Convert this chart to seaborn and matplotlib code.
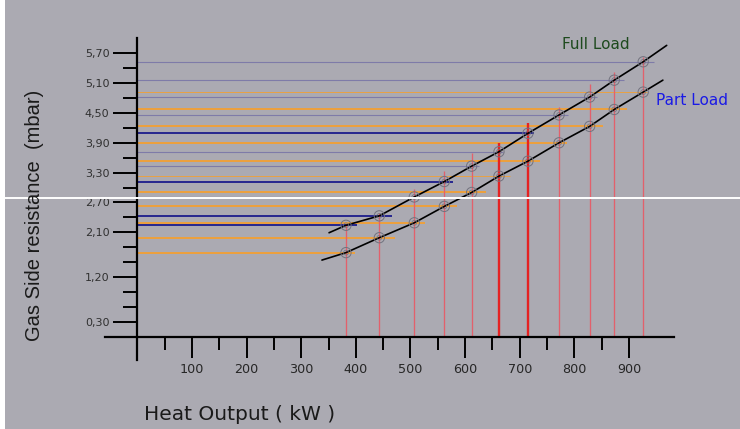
import numpy as np
import pandas as pd
import seaborn as sns
import matplotlib.pyplot as plt
from matplotlib.lines import Line2D
from matplotlib.patches import Rectangle

sns.set_theme(style="ticks")
plt.rcParams['font.family'] = ['DejaVu Sans']

# ---- data ----
heat_kw = [382, 443, 507, 562, 612, 662, 715, 772, 828, 873, 926]
full_load = [2.24, 2.43, 2.81, 3.12, 3.43, 3.72, 4.09, 4.46, 4.82, 5.16, 5.53]
part_load = [1.69, 1.99, 2.29, 2.62, 2.90, 3.23, 3.53, 3.90, 4.23, 4.57, 4.92]

# curves run a little past the first / last point
full_curve_kw = [351] + heat_kw + [969]
full_curve_val = [2.09] + full_load + [5.86]
part_curve_kw = [338] + heat_kw + [962]
part_curve_val = [1.54] + part_load + [5.16]

# where the guide lines stop
full_hline_end = [403, 466, 530, 577, 626, 670, 727, 788, 842, 890, 945]
part_hline_end = [399, 472, 527, 585, 638, 682, 737, 786, 852, 896, 933]
vline_top = [2.26, 2.48, 2.98, 3.34, 3.70, 3.90, 4.30, 4.61, 5.08, 5.33, 5.63]

x_major = [100, 200, 300, 400, 500, 600, 700, 800, 900]
x_minor = [50, 150, 250, 350, 450, 550, 650, 750, 850]
y_major = [0.3, 1.2, 2.1, 2.7, 3.3, 3.9, 4.5, 5.1, 5.7]
y_minor = [0.6, 0.9, 1.5, 1.8, 2.4, 3.0, 3.6, 4.2, 4.8, 5.4]
y_labels = ["0,30", "1,20", "2,10", "2,70", "3,30", "3,90", "4,50", "5,10", "5,70"]

blue_full = [382, 443, 562, 715]
thin_part = [662, 926]
bold_vert = [662, 715]

BG = "#abaab2"
ORANGE = "#f2a033"
NAVY = "#1c1c8c"
SLATE = "#7e7ba8"
RED_THIN = "#e2606c"
RED = "#e52222"

fig = plt.figure(figsize=(7.40, 4.29), dpi=100, facecolor=BG)
ax = fig.add_axes([0, 0, 1, 1])
ax.set_facecolor(BG)
ax.set_xlim(-251.3, 1103.2)
ax.set_ylim(-1.859, 6.773)

# horizontal guides
for kw, v, end in zip(heat_kw, full_load, full_hline_end):
    if kw in blue_full:
        ax.hlines(v, 0, end, color=NAVY, lw=1.3, zorder=2)
    else:
        ax.hlines(v, 0, end, color=SLATE, lw=0.8, zorder=2)
for kw, v, end in zip(heat_kw, part_load, part_hline_end):
    ax.hlines(v, 0, end, color=ORANGE, lw=0.6 if kw in thin_part else 1.3, zorder=2)

# vertical guides
for kw, top in zip(heat_kw, vline_top):
    if kw in bold_vert:
        ax.vlines(kw, 0, top, color=RED, lw=1.7, zorder=3)
    else:
        ax.vlines(kw, 0, top, color=RED_THIN, lw=0.95, zorder=3)

# load curves
curves = pd.DataFrame({
    "kw": full_curve_kw + part_curve_kw,
    "mbar": full_curve_val + part_curve_val,
    "load": ["Full"] * len(full_curve_kw) + ["Part"] * len(part_curve_kw),
})
sns.lineplot(data=curves, x="kw", y="mbar", units="load", estimator=None,
             sort=False, color="black", lw=1.2, ax=ax, zorder=4)

pts = pd.DataFrame({"kw": heat_kw * 2, "mbar": full_load + part_load})
sns.scatterplot(data=pts, x="kw", y="mbar", marker="o", s=55,
                facecolor="none", edgecolor="#72727e", linewidth=0.7, ax=ax, zorder=5)
sns.scatterplot(data=pts, x="kw", y="mbar", marker="o", s=12,
                facecolor="none", edgecolor="#72727e", linewidth=0.5, ax=ax, zorder=5)

# axes drawn as spines through the origin
for side in ["top", "right"]:
    ax.spines[side].set_visible(False)
ax.spines["left"].set_position(("data", 0))
ax.spines["bottom"].set_position(("data", 0))
ax.spines["left"].set_bounds(-0.47, 6.0)
ax.spines["bottom"].set_bounds(-59, 982)
for side in ["left", "bottom"]:
    ax.spines[side].set_linewidth(1.6)
    ax.spines[side].set_color("black")
    ax.spines[side].set_zorder(6)

ax.set_xticks(x_major)
ax.set_xticks(x_minor, minor=True)
ax.set_xticklabels([str(v) for v in x_major])
ax.set_yticks(y_major)
ax.set_yticks(y_minor, minor=True)
ax.set_yticklabels(y_labels)

ax.tick_params(axis="x", which="major", direction="out", length=15, width=1.4,
               color="black", pad=4, labelsize=9.2, labelcolor="#262626")
ax.tick_params(axis="x", which="minor", direction="out", length=9.5, width=1.4, color="black")
ax.tick_params(axis="y", which="major", direction="out", length=17, width=1.4,
               color="black", pad=3, labelsize=8, labelcolor="#303030")
ax.tick_params(axis="y", which="minor", direction="out", length=10, width=1.4, color="black")
ax.set_xlabel("")
ax.set_ylabel("")

ax.text(839.6, 5.88, "Full Load", color="#1e4a1e", fontsize=11, ha="center", va="center")
ax.text(1016, 4.75, "Part Load", color="#1a1ae6", fontsize=11, ha="center", va="center")

fig.text(144 / 740, 1 - 414 / 429, "Heat Output ( kW )", fontsize=14.5, color="#1a1a1a",
         ha="left", va="center")
fig.text(35 / 740, 1 - 215 / 429, "Gas Side resistance  (mbar)", rotation=90, fontsize=14.5,
         color="#1a1a1a", ha="center", va="center", family=["Liberation Sans", "DejaVu Sans"])

# white seam and left border of the original picture
fig.add_artist(Line2D([0, 1], [1 - 198 / 429] * 2, transform=fig.transFigure,
                      color="white", lw=1.4))
fig.add_artist(Rectangle((0, 0), 5 / 740, 1, transform=fig.transFigure,
                         facecolor="white", edgecolor="none"))

fig.savefig("out.png", dpi=100, facecolor=fig.get_facecolor())
